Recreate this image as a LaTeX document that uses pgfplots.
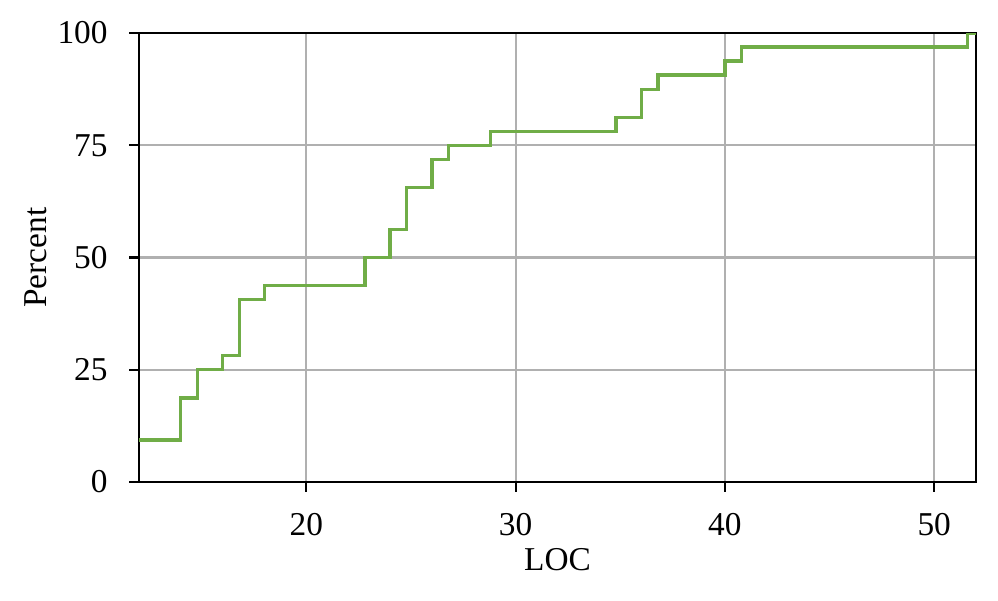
\documentclass[border=0pt]{standalone}
\usepackage{fontspec}
\setmainfont{Liberation Serif}
\usepackage{pgfplots}
\pgfplotsset{compat=1.18}
\usetikzlibrary{calc}
\definecolor{ecdfgreen}{RGB}{112,173,71}
\definecolor{gridgray}{RGB}{176,176,176}

\begin{document}
\begin{tikzpicture}
  \begin{axis}[
    scale only axis,
    width=301.3pt, height=161.6pt,
    xmin=12, xmax=52,
    ymin=0, ymax=100,
    xtick={20,30,40,50},
    ytick={0,25,50,75,100},
    font=\fontsize{12}{14}\selectfont,
    /pgf/number format/assume math mode=true,
    tick align=outside,
    major tick length=3.5pt,
    tick style={black, line width=0.8pt},
    axis line style={black, line width=0.8pt},
    xtick pos=bottom, ytick pos=left,
    grid=major,
    major grid style={gridgray, line width=0.8pt},
    xticklabel style={inner sep=0pt, yshift=-7.6pt},
    yticklabel style={inner sep=0pt, xshift=-7.6pt},
    xlabel={LOC},
    ylabel={Percent},
    xlabel style={at={(axis description cs:0.5,0)}, anchor=north, inner sep=0pt, yshift=-23.6pt},
    ylabel style={at={(axis description cs:-0.109,0.5)}, anchor=south, inner sep=0pt},
  ]
    % ECDF over 32 samples
    \addplot[const plot, ecdfgreen, line width=1.2pt] coordinates {
      (12,9.375) (14,18.75) (14.8,25) (16,28.125) (16.8,40.625) (18,43.75)
      (22.8,50) (24,56.25) (24.8,65.625) (26,71.875) (26.8,75) (28.8,78.125)
      (34.8,81.25) (36,87.5) (36.8,90.625) (40,93.75) (40.8,96.875)
      (51.6,100) (52,100)
    };
  \end{axis}
  \path ([shift={(-50pt,-42.8pt)}]current axis.south west)
    rectangle ([shift={(7.9pt,11.9pt)}]current axis.north east);
\end{tikzpicture}
\end{document}
